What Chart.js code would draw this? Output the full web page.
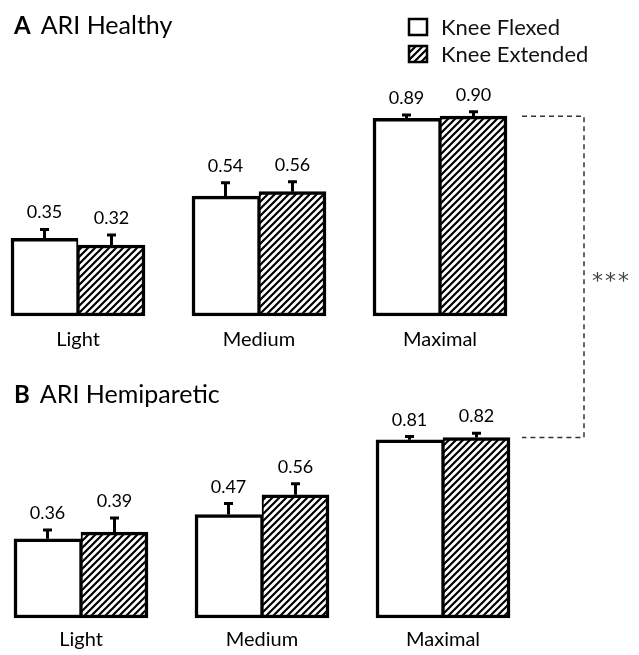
<!DOCTYPE html>
<html><head><meta charset="utf-8">
<script src="https://cdn.jsdelivr.net/npm/chart.js@4.4.1/dist/chart.umd.min.js"></script>
<style>
html,body{margin:0;padding:0;background:#fff;}
#wrap{position:relative;width:639px;height:655px;background:#fff;}
#wrap canvas{position:absolute;left:0;top:0;}
</style></head><body>
<div id="wrap"><canvas id="cA" width="639" height="655"></canvas><canvas id="cB" width="639" height="655"></canvas></div>
<script>
// ---- data ----
const categories = ['Light', 'Medium', 'Maximal'];
const seriesNames = ['Knee Flexed', 'Knee Extended'];
const healthyFlexed = [0.35, 0.54, 0.89];
const healthyExtended = [0.32, 0.56, 0.90];
const healthyFlexedErr = [0.04, 0.06, 0.015];
const healthyExtendedErr = [0.045, 0.045, 0.02];
const hemiFlexed = [0.36, 0.47, 0.81];
const hemiExtended = [0.39, 0.56, 0.82];
const hemiFlexedErr = [0.04, 0.05, 0.015];
const hemiExtendedErr = [0.065, 0.05, 0.02];
const titleA = ['A', 'ARI Healthy'];
const titleB = ['B', 'ARI Hemiparetic'];
const significance = '***';

const FONT = 'Lato, "Open Sans", sans-serif';

function makeHatch() {
  const s = 7;
  const c = document.createElement('canvas');
  c.width = s; c.height = s;
  const x = c.getContext('2d');
  x.fillStyle = '#fff'; x.fillRect(0, 0, s, s);
  x.strokeStyle = '#000'; x.lineWidth = 2.2;
  x.beginPath();
  x.moveTo(-1, s + 1); x.lineTo(s + 1, -1);
  x.moveTo(-1, 1); x.lineTo(1, -1);
  x.moveTo(s - 1, s + 1); x.lineTo(s + 1, s - 1);
  x.stroke();
  return x.createPattern(c, 'repeat');
}
const hatch = makeHatch();

function datasets(flex, ext, flexErr, extErr) {
  return [
    { label: seriesNames[0], data: flex, errors: flexErr, backgroundColor: '#fff', borderColor: '#000',
      borderWidth: { left: 3.5, top: 3.5, bottom: 3.5, right: 2 }, borderSkipped: false, barThickness: 67, clip: false },
    { label: seriesNames[1], data: ext, errors: extErr, backgroundColor: hatch, borderColor: '#000',
      borderWidth: { left: 2, top: 3.5, bottom: 3.5, right: 3.5 }, borderSkipped: false, barThickness: 67, clip: false }
  ];
}

const errorPlugin = {
  id: 'errorLabels',
  afterDatasetsDraw(chart) {
    const ctx = chart.ctx, y = chart.scales.y;
    ctx.save();
    chart.data.datasets.forEach((ds, i) => {
      const meta = chart.getDatasetMeta(i);
      meta.data.forEach((el, j) => {
        const v = ds.data[j], e = ds.errors[j];
        const capY = y.getPixelForValue(v + e);
        ctx.strokeStyle = '#000'; ctx.lineWidth = 3; ctx.lineCap = 'butt';
        ctx.beginPath();
        ctx.moveTo(el.x, el.y); ctx.lineTo(el.x, capY);
        ctx.moveTo(el.x - 4.5, capY); ctx.lineTo(el.x + 4.5, capY);
        ctx.stroke();
        ctx.fillStyle = '#000';
        ctx.font = '18px ' + FONT;
        ctx.textAlign = 'center'; ctx.textBaseline = 'alphabetic';
        ctx.fillText(v.toFixed(2), el.x, capY - 11);
      });
    });
    ctx.restore();
  }
};

const panelTitlePlugin = {
  id: 'panelTitle',
  afterDraw(chart, args, opts) {
    const ctx = chart.ctx;
    ctx.save();
    ctx.fillStyle = '#000'; ctx.textAlign = 'left'; ctx.textBaseline = 'alphabetic';
    ctx.font = 'bold 24px ' + FONT;
    ctx.fillText(opts.text[0], opts.x, opts.y);
    const w = ctx.measureText(opts.text[0]).width;
    ctx.font = '25px ' + FONT;
    ctx.fillText(opts.text[1], opts.x + w + 10, opts.y);
    ctx.restore();
  }
};

const legendPlugin = {
  id: 'boxLegend',
  afterDraw(chart, args, opts) {
    if (!opts.show) return;
    const ctx = chart.ctx;
    ctx.save();
    chart.data.datasets.forEach((ds, i) => {
      const bx = opts.x, by = opts.y + i * 27;
      ctx.fillStyle = ds.backgroundColor;
      ctx.fillRect(bx, by, 18, 16);
      ctx.strokeStyle = '#000'; ctx.lineWidth = 2.5;
      ctx.strokeRect(bx, by, 18, 16);
      ctx.fillStyle = '#111'; ctx.font = '22px ' + FONT;
      ctx.textAlign = 'left'; ctx.textBaseline = 'middle';
      ctx.fillText(ds.label, bx + 32, by + 9);
    });
    ctx.restore();
  }
};

function baseOptions(pad, tickPad, axisH, titleOpts, legendOpts) {
  return {
    responsive: false, animation: false, devicePixelRatio: 1,
    layout: { padding: pad },
    scales: {
      x: { offset: false, grid: { display: false, drawTicks: false }, border: { display: false },
           ticks: { color: '#000', font: { family: FONT, size: 20 }, padding: tickPad, maxRotation: 0, autoSkip: false },
           afterFit(s) { s.height = axisH; } },
      y: { display: false, min: 0, max: 1 }
    },
    plugins: { legend: { display: false }, tooltip: { enabled: false },
               panelTitle: titleOpts, boxLegend: legendOpts }
  };
}

const chartA = new Chart(document.getElementById('cA'), {
  type: 'bar',
  data: { labels: categories, datasets: datasets(healthyFlexed, healthyExtended, healthyFlexedErr, healthyExtendedErr) },
  options: baseOptions({ left: 78, right: 199, top: 94, bottom: 299 }, 12, 40,
    { text: titleA, x: 14, y: 34 }, { show: true, x: 409, y: 19 }),
  plugins: [errorPlugin, panelTitlePlugin, legendPlugin]
});

const bracketPlugin = {
  id: 'bracket',
  afterDraw(chart) {
    const ctx = chart.ctx;
    const lastA = chartA.getDatasetMeta(1).data[2];
    const lastB = chart.getDatasetMeta(1).data[2];
    const yTop = chartA.scales.y.getPixelForValue(Math.max(healthyFlexed[2], healthyExtended[2]));
    const yBot = chart.scales.y.getPixelForValue(Math.max(hemiFlexed[2], hemiExtended[2]));
    const x0 = Math.max(lastA.x, lastB.x) + lastA.width / 2 + 12;
    const x1 = x0 + 62;
    ctx.save();
    ctx.strokeStyle = '#333'; ctx.lineWidth = 1.5; ctx.setLineDash([5, 4]);
    ctx.beginPath();
    ctx.moveTo(x0, yTop); ctx.lineTo(x1, yTop); ctx.lineTo(x1, yBot); ctx.lineTo(x0, yBot);
    ctx.stroke();
    ctx.setLineDash([]);
    ctx.fillStyle = '#444'; ctx.font = '22px "DejaVu Sans", sans-serif';
    ctx.letterSpacing = '2px';
    ctx.textAlign = 'left'; ctx.textBaseline = 'middle';
    ctx.fillText(significance, x1 + 8, (yTop + yBot) / 2 + 5);
    ctx.restore();
  }
};

const chartB = new Chart(document.getElementById('cB'), {
  type: 'bar',
  data: { labels: categories, datasets: datasets(hemiFlexed, hemiExtended, hemiFlexedErr, hemiExtendedErr) },
  options: baseOptions({ left: 81, right: 196, top: 398, bottom: 0 }, 10, 37,
    { text: titleB, x: 14, y: 403 }, { show: false }),
  plugins: [errorPlugin, panelTitlePlugin, bracketPlugin]
});
</script>
</body></html>
